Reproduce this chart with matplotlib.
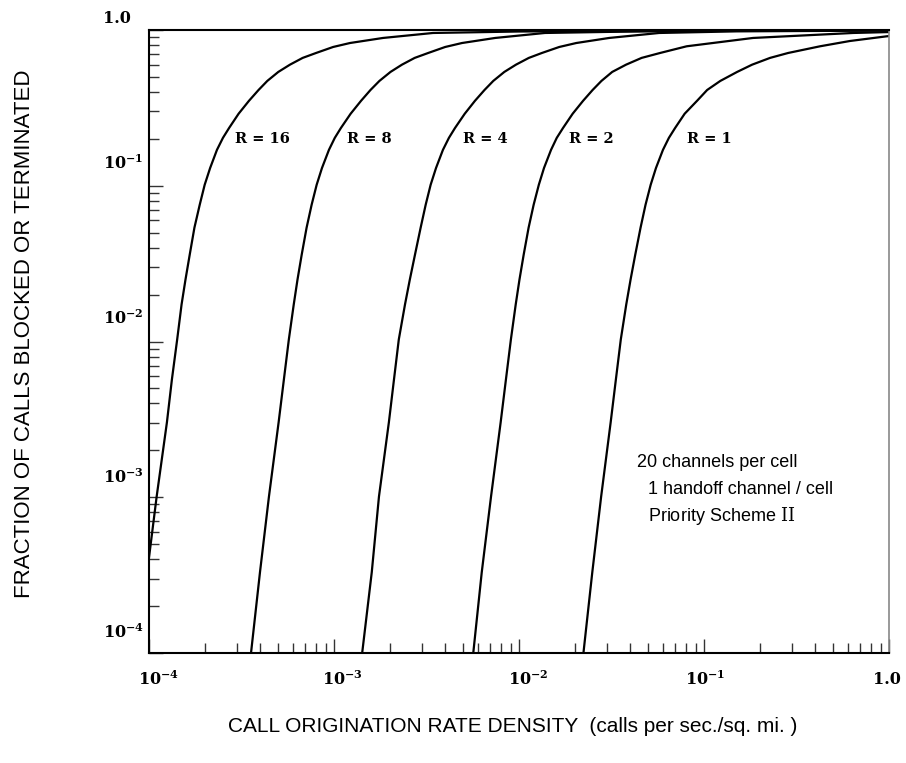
import matplotlib.pyplot as plt

plt.rcParams['mathtext.fontset'] = 'dejavuserif'

# curves: call origination rate density vs fraction blocked
x_r16 = [1.0e-4, 1.10e-4, 1.25e-4, 1.33e-4, 1.42e-4, 1.50e-4, 1.575e-4, 1.66e-4, 1.76e-4,
         1.88e-4, 2.00e-4, 2.14e-4, 2.33e-4, 2.51e-4, 2.71e-4, 3.05e-4, 3.47e-4, 3.91e-4,
         4.36e-4, 5.00e-4, 5.78e-4, 6.77e-4, 8.00e-4, 9.89e-4, 1.22e-3, 1.84e-3, 3.43e-3,
         1.0e-2, 1.0e-1, 1.0]
y_r16 = [4.1e-4, 1.01e-3, 3.03e-3, 5.71e-3, 1.03e-2, 1.73e-2, 2.50e-2, 3.61e-2, 5.38e-2,
         7.55e-2, 0.1015, 0.130, 0.170, 0.203, 0.235, 0.290, 0.351, 0.412,
         0.471, 0.538, 0.599, 0.662, 0.712, 0.778, 0.825, 0.889, 0.957,
         0.978, 0.993, 0.997]

x_r8 = [3.56e-4, 3.98e-4, 4.45e-4, 5.02e-4, 5.36e-4, 5.70e-4, 6.06e-4, 6.35e-4, 6.69e-4,
        7.11e-4, 7.57e-4, 8.06e-4, 8.61e-4, 9.39e-4, 1.01e-3, 1.09e-3, 1.23e-3, 1.40e-3,
        1.575e-3, 1.76e-3, 2.02e-3, 2.33e-3, 2.73e-3, 3.23e-3, 3.99e-3, 4.92e-3, 7.43e-3,
        1.38e-2, 3.0e-2, 1.0e-1, 1.0]
y_r8 = [1.0e-4, 3.30e-4, 1.01e-3, 3.03e-3, 5.71e-3, 1.03e-2, 1.73e-2, 2.50e-2, 3.61e-2,
        5.38e-2, 7.55e-2, 0.1015, 0.130, 0.170, 0.203, 0.235, 0.290, 0.351,
        0.412, 0.471, 0.538, 0.599, 0.662, 0.712, 0.778, 0.825, 0.889,
        0.957, 0.972, 0.988, 0.997]

x_r4 = [1.42e-3, 1.60e-3, 1.75e-3, 1.98e-3, 2.11e-3, 2.24e-3, 2.42e-3, 2.57e-3, 2.74e-3,
        2.94e-3, 3.13e-3, 3.33e-3, 3.56e-3, 3.88e-3, 4.18e-3, 4.51e-3, 5.09e-3, 5.78e-3,
        6.51e-3, 7.26e-3, 8.33e-3, 9.63e-3, 1.13e-2, 1.33e-2, 1.65e-2, 2.04e-2, 3.07e-2,
        5.72e-2, 1.5e-1, 1.0]
y_r4 = [1.0e-4, 3.30e-4, 1.01e-3, 3.03e-3, 5.71e-3, 1.03e-2, 1.73e-2, 2.50e-2, 3.61e-2,
        5.38e-2, 7.55e-2, 0.1015, 0.130, 0.170, 0.203, 0.235, 0.290, 0.351,
        0.412, 0.471, 0.538, 0.599, 0.662, 0.712, 0.778, 0.825, 0.889,
        0.957, 0.980, 0.992]

x_r2 = [5.66e-3, 6.29e-3, 7.06e-3, 7.96e-3, 8.50e-3, 9.04e-3, 9.60e-3, 1.006e-2, 1.06e-2,
        1.127e-2, 1.20e-2, 1.28e-2, 1.365e-2, 1.49e-2, 1.60e-2, 1.73e-2, 1.95e-2, 2.22e-2,
        2.50e-2, 2.79e-2, 3.19e-2, 3.79e-2, 4.60e-2, 5.79e-2, 8.06e-2, 0.184, 0.639, 1.0]
y_r2 = [1.0e-4, 3.30e-4, 1.01e-3, 3.03e-3, 5.71e-3, 1.03e-2, 1.73e-2, 2.50e-2, 3.61e-2,
        5.38e-2, 7.55e-2, 0.1015, 0.130, 0.170, 0.203, 0.235, 0.290, 0.351,
        0.412, 0.471, 0.538, 0.599, 0.662, 0.712, 0.786, 0.889, 0.957, 0.970]

x_r1 = [2.23e-2, 2.49e-2, 2.78e-2, 3.13e-2, 3.34e-2, 3.55e-2, 3.80e-2, 4.01e-2, 4.25e-2,
        4.54e-2, 4.83e-2, 5.15e-2, 5.50e-2, 6.00e-2, 6.46e-2, 6.98e-2, 7.86e-2, 9.17e-2,
        0.104, 0.1225, 0.151, 0.182, 0.2275, 0.285, 0.424, 0.615, 0.972, 1.0]
y_r1 = [1.0e-4, 3.30e-4, 1.01e-3, 3.03e-3, 5.71e-3, 1.03e-2, 1.73e-2, 2.50e-2, 3.61e-2,
        5.38e-2, 7.55e-2, 0.1015, 0.130, 0.170, 0.203, 0.235, 0.290, 0.351,
        0.412, 0.471, 0.538, 0.599, 0.662, 0.712, 0.786, 0.850, 0.911, 0.914]

curve_labels = ['R = 16', 'R = 8', 'R = 4', 'R = 2', 'R = 1']
label_x = [2.92e-4, 1.17e-3, 5.0e-3, 1.87e-2, 8.05e-2]
label_y = 0.20

xtick_vals = [1e-4, 1e-3, 1e-2, 1e-1, 1.0]
xtick_text = [r'$\mathbf{10^{-4}}$', r'$\mathbf{10^{-3}}$', r'$\mathbf{10^{-2}}$',
              r'$\mathbf{10^{-1}}$', '1.0']
ytick_vals = [1.0, 1e-1, 1e-2, 1e-3, 1e-4]
ytick_text = ['1.0', r'$\mathbf{10^{-1}}$', r'$\mathbf{10^{-2}}$',
              r'$\mathbf{10^{-3}}$', r'$\mathbf{10^{-4}}$']

fig = plt.figure(figsize=(9.06, 7.63), dpi=100)
ax = fig.add_axes([149/906, 110/763, 740/906, 623/763])

for xs, ys in [(x_r16, y_r16), (x_r8, y_r8), (x_r4, y_r4), (x_r2, y_r2), (x_r1, y_r1)]:
    ax.plot(xs, ys, color='black', lw=1.6, solid_joinstyle='round')

ax.set_xscale('log')
ax.set_yscale('log')
ax.set_xlim(1e-4, 1.0)
ax.set_ylim(1e-4, 1.0)

for side in ['left', 'bottom', 'top']:
    ax.spines[side].set_linewidth(1.5)
ax.spines['right'].set_color('#888888')
ax.spines['right'].set_linewidth(1.2)

ax.tick_params(which='both', direction='in', top=False, right=False,
               labelbottom=False, labelleft=False, color='#333333', width=1)
ax.tick_params(which='major', length=10)
ax.tick_params(which='minor', length=7.5)

# tick labels sit a bit off their ticks in the original
px = 72 / 100
x_off = [10, 8, 9, 1, -2]
for v, t, dx in zip(xtick_vals, xtick_text, x_off):
    ax.annotate(t, xy=(v, 0), xycoords=ax.get_xaxis_transform(),
                xytext=(dx * px, -27 * px), textcoords='offset points',
                ha='center', va='center', fontsize=11.5,
                family='DejaVu Serif', fontweight='bold')

y_off = [11.5, 22, 23, 20, 20]
for v, t, dy in zip(ytick_vals, ytick_text, y_off):
    ax.annotate(t, xy=(0, v), xycoords=ax.get_yaxis_transform(),
                xytext=(-46 * px, dy * px), textcoords='offset points',
                ha='left', va='center', fontsize=11.5,
                family='DejaVu Serif', fontweight='bold')

for lab, lx in zip(curve_labels, label_x):
    ax.text(lx, label_y, lab, ha='left', va='center', fontsize=10.5,
            family='DejaVu Serif', fontweight='bold')

note_kw = dict(transform=fig.transFigure, ha='left', va='center',
               fontsize=13, family='Liberation Sans')
fig.text(636.7/906, 1 - 462.7/763, '20 channels per cell', **note_kw)
fig.text(648.3/906, 1 - 490/763, '1 handoff channel / cell', **note_kw)
fig.text(648.3/906, 1 - 516/763, r'Priority Scheme $\mathrm{II}$', **note_kw)

fig.text(513/906, 1 - 727/763, 'CALL ORIGINATION RATE DENSITY  (calls per sec./sq. mi. )',
         ha='center', va='center', fontsize=15, family='Liberation Sans')
fig.text(25/906, 1 - 334/763, 'FRACTION OF CALLS BLOCKED OR TERMINATED',
         ha='center', va='center', rotation=90, fontsize=16, family='Liberation Sans')

fig.savefig('out.png', dpi=100)
